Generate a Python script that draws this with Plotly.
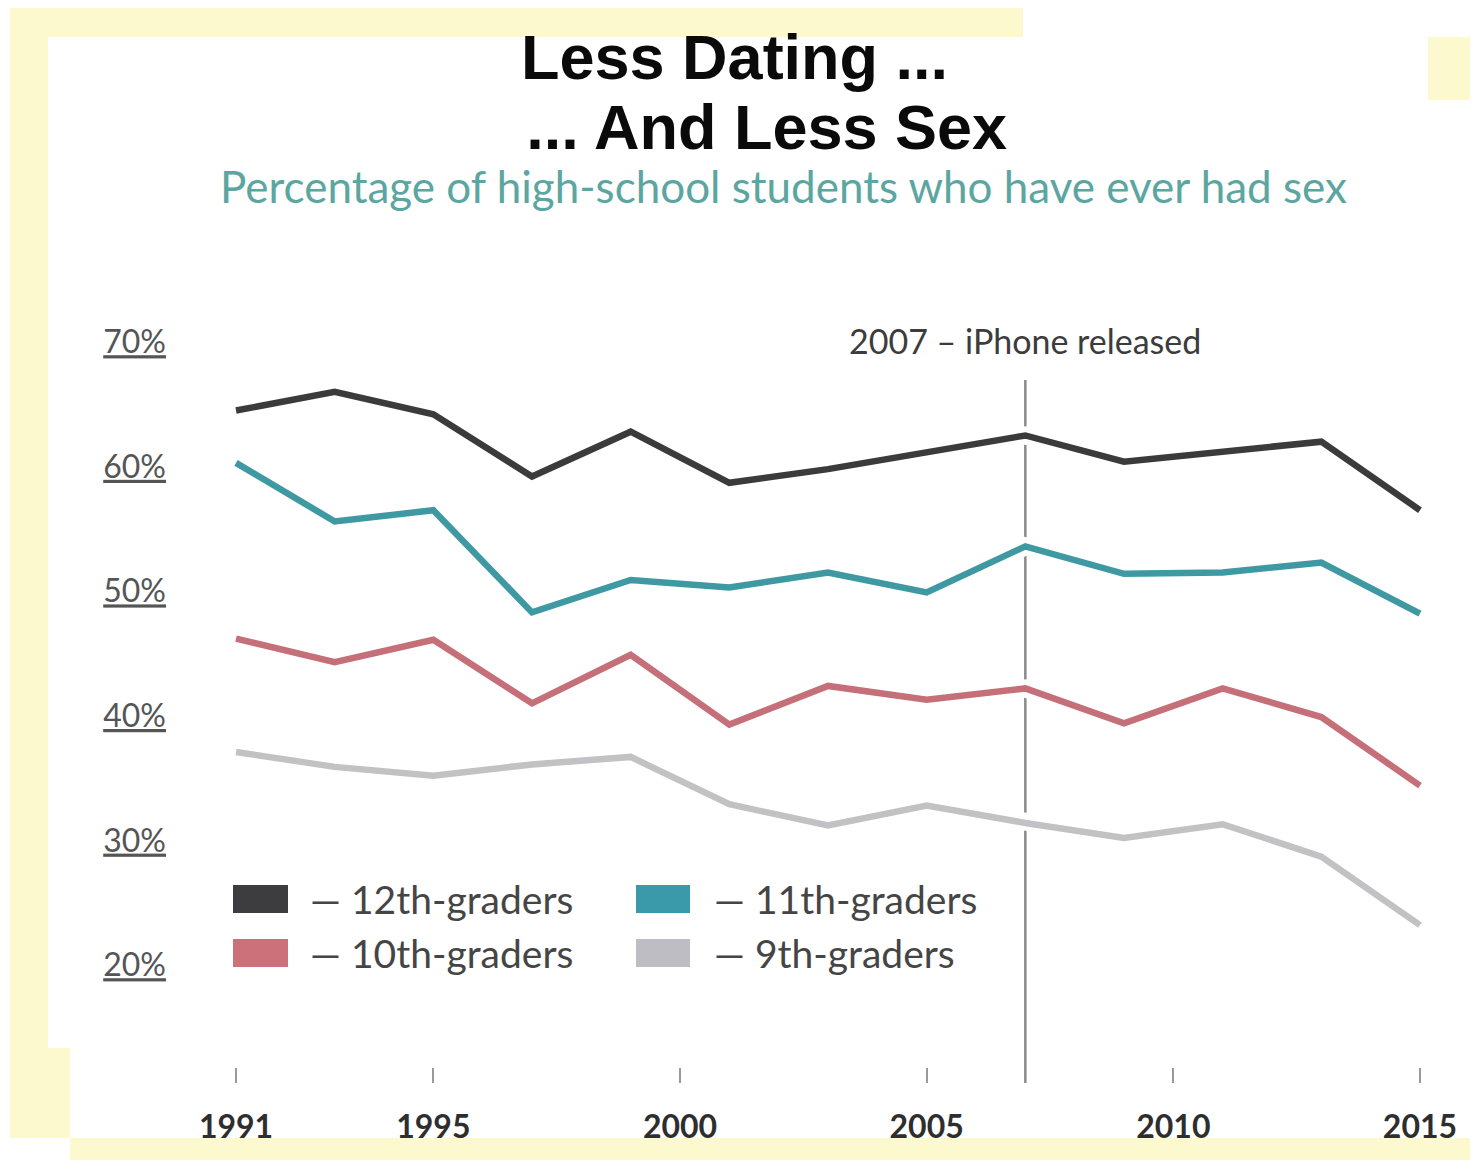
import plotly.graph_objects as go

# ---------------- data ----------------
years = [1991, 1993, 1995, 1997, 1999, 2001, 2003, 2005, 2007, 2009, 2011, 2013, 2015]
series_names = ["12th-graders", "11th-graders", "10th-graders", "9th-graders"]
grade12 = [64.5, 66.0, 64.2, 59.2, 62.8, 58.7, 59.8, 61.2, 62.5, 60.4, 61.2, 62.0, 56.5]
grade11 = [60.3, 55.6, 56.5, 48.3, 50.9, 50.3, 51.5, 49.9, 53.6, 51.4, 51.5, 52.3, 48.2]
grade10 = [46.2, 44.3, 46.1, 41.0, 44.9, 39.3, 42.4, 41.3, 42.2, 39.4, 42.2, 39.9, 34.4]
grade9 = [37.1, 35.9, 35.2, 36.1, 36.7, 32.9, 31.2, 32.8, 31.4, 30.2, 31.3, 28.7, 23.2]
series_values = [grade12, grade11, grade10, grade9]
line_colors = ["#3b3b3b", "#3f99a2", "#c56f79", "#c2c2c4"]
swatch_colors = ["#3d3d3f", "#3a9aa9", "#cc707a", "#bdbdc3"]

x_tick_vals = [1991, 1995, 2000, 2005, 2010, 2015]
x_tick_text = ["1991", "1995", "2000", "2005", "2010", "2015"]
y_tick_vals = [20, 30, 40, 50, 60, 70]
y_tick_text = ["20%", "30%", "40%", "50%", "60%", "70%"]

event_year = 2007
event_label = "2007 – iPhone released"

title_line1 = "Less Dating ..."
title_line2 = "... And Less Sex"
subtitle = "Percentage of high-school students who have ever had sex"

# ---------------- layout geometry ----------------
W, H = 1475, 1160
ML, MR, MT, MB = 175, 5, 37, 77
PW, PH = W - ML - MR, H - MT - MB

def px(x):
    return (x - ML) / PW

def py(y):
    return 1 - (y - MT) / PH

x_range = [1989.763, 2016.014]
y_range = [10.53, 94.48]

fig = go.Figure()

# white halo under each line (creates gaps in the event line)
for vals in series_values:
    fig.add_trace(go.Scatter(x=years, y=vals, mode="lines",
                             line=dict(color="white", width=18),
                             hoverinfo="skip", showlegend=False))
for name, vals, col in zip(series_names, series_values, line_colors):
    fig.add_trace(go.Scatter(x=years, y=vals, mode="lines", name=name,
                             line=dict(color=col, width=6.5),
                             showlegend=False))

shapes = []
yellow = "#fdf9cf"
# pale yellow frame pieces of the original picture
for (x0, y0, x1, y1) in [(10, 8, 1023, 37), (10, 37, 48, 1138), (10, 1048, 70, 1138),
                         (70, 1138, 1470, 1160), (1428, 37, 1470, 100)]:
    shapes.append(dict(type="rect", xref="paper", yref="paper",
                       x0=px(x0), x1=px(x1), y0=py(y1), y1=py(y0),
                       fillcolor=yellow, line=dict(width=0), layer="below"))

# event line
shapes.append(dict(type="line", xref="x", yref="paper", x0=event_year, x1=event_year,
                   y0=0, y1=py(380), line=dict(color="#8a8a8a", width=2.5), layer="below"))

annotations = []
# two-line title in a single text block
big = 'style="font-size:63px"'
annotations.append(dict(text=f"<b><span {big}>{title_line1}</span></b><br>"
                             f"<b><span {big}>&#8202;{title_line2}</span></b>",
                        xref="paper", yref="paper", align="left",
                        x=px(519), y=py(92), showarrow=False, xanchor="left", yanchor="middle",
                        font=dict(family="Liberation Sans", size=54, color="#0a0a0a")))
annotations.append(dict(text=subtitle, xref="paper", yref="paper",
                        x=px(783), y=py(186), showarrow=False, xanchor="center", yanchor="middle",
                        font=dict(family="Lato", size=44, color="#5ca6a2")))
# event label
annotations.append(dict(text=event_label, xref="x", yref="paper", x=event_year, y=py(340),
                        showarrow=False, xanchor="center", yanchor="middle",
                        font=dict(family="Lato", size=34, color="#3c3c3c")))

# legend (2 x 2 grid)
legend_cols = [(233, 288, 308), (636, 690, 712)]
legend_rows = [899, 953]
order = [0, 1, 2, 3]
for k, idx in enumerate(order):
    c0, c1, tx = legend_cols[k % 2]
    cy = legend_rows[k // 2]
    shapes.append(dict(type="rect", xref="paper", yref="paper",
                       x0=px(c0), x1=px(c1), y0=py(cy + 14), y1=py(cy - 14),
                       fillcolor=swatch_colors[idx], line=dict(width=0)))
    annotations.append(dict(text="— " + series_names[idx], xref="paper", yref="paper",
                            x=px(tx), y=py(cy), showarrow=False, xanchor="left", yanchor="middle",
                            font=dict(family="Lato", size=39, color="#454545")))

fig.update_layout(
    width=W, height=H,
    margin=dict(l=ML, r=MR, t=MT, b=MB),
    paper_bgcolor="white", plot_bgcolor="rgba(0,0,0,0)",
    shapes=shapes, annotations=annotations,
    showlegend=False,
    xaxis=dict(range=x_range, tickvals=x_tick_vals, ticktext=x_tick_text,
               showgrid=False, zeroline=False, showline=False,
               ticks="inside", ticklen=15, tickwidth=2, tickcolor="#9a9a9a",
               ticklabelstandoff=22,
               tickfont=dict(family="Lato", size=32, color="#2e2e2e", weight="bold")),
    yaxis=dict(range=y_range, tickvals=y_tick_vals, ticktext=y_tick_text,
               showgrid=False, zeroline=False, showline=False, ticks="",
               ticklabelstandoff=8,
               tickfont=dict(family="Lato", size=32, color="#555555", lineposition="under")),
)

fig.write_html("out.html", config={"displayModeBar": False},
               post_script="document.body.style.margin='0px';")
